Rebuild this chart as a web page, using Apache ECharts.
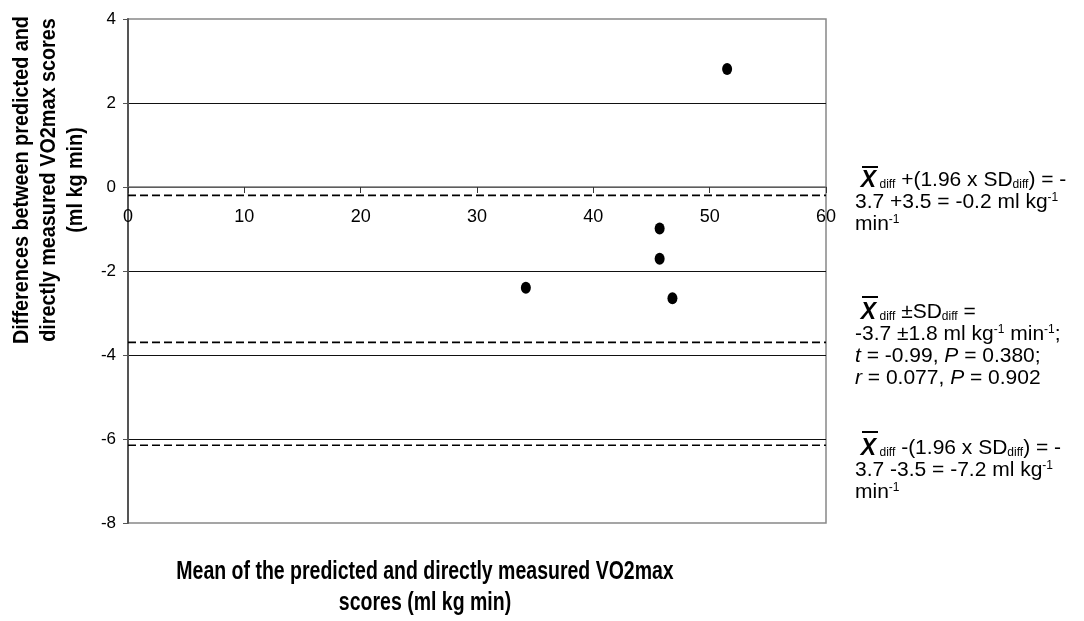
<!DOCTYPE html>
<html>
<head>
<meta charset="utf-8">
<script src="https://cdn.jsdelivr.net/npm/echarts@6/dist/echarts.min.js"></script>
<style>
html,body{margin:0;padding:0;background:#fff;}
#chart{width:1084px;height:621px;}
</style>
</head>
<body>
<div id="chart"></div>
<script>
// ---- data ----
const meanScores = [51.5, 45.7, 45.7, 34.2, 46.8];
const diffScores = [2.81, -0.99, -1.71, -2.40, -2.65];
const limitValues = [-0.2, -3.7, -6.15];
const xRange = [0, 60];
const yRange = [-8, 4];
const xTitle = 'Mean of the predicted and directly measured VO2max\nscores (ml kg min)';
const yTitle = 'Differences between predicted and\ndirectly measured VO2max scores\n(ml kg min)';
const note1 = ' {x|X}{s| diff} +(1.96 x SD{s|diff}) = -\n3.7 +3.5 = -0.2 ml kg{p|-1}\nmin{p|-1}';
const note2 = ' {x|X}{s| diff} ±SD{s|diff} =\n-3.7 ±1.8 ml kg{p|-1} min{p|-1};\n{i|t} = -0.99, {i|P} = 0.380;\n{i|r} = 0.077, {i|P} = 0.902';
const note3 = ' {x|X}{s| diff} -(1.96 x SD{s|diff}) = -\n3.7 -3.5 = -7.2 ml kg{p|-1}\nmin{p|-1}';

const SANS = "'Liberation Sans', Arial, sans-serif";

const GRID = {left: 128, right: 258, top: 19, bottom: 98};
const gridH = 621 - GRID.top - GRID.bottom;
// place the x axis at y = 0
const xAxisOffset = -gridH * (0 - yRange[0]) / (yRange[1] - yRange[0]);

const chart = echarts.init(document.getElementById('chart'), null, {renderer: 'canvas'});

const LH = 22;
const richStyles = {
  x: {fontFamily: SANS, fontSize: 23, fontWeight: 'bold', fontStyle: 'italic', lineHeight: LH, fill: '#000'},
  s: {fontFamily: SANS, fontSize: 12, lineHeight: LH, verticalAlign: 'bottom', fill: '#000', padding: [0, 0, 1, 0]},
  p: {fontFamily: SANS, fontSize: 12, lineHeight: LH, verticalAlign: 'top', fill: '#000'},
  i: {fontFamily: SANS, fontSize: 21, fontStyle: 'italic', lineHeight: LH, fill: '#000'}
};

function note(text, top) {
  return {
    type: 'text', left: 855, top: top, silent: true,
    style: {text: text, fontFamily: SANS, fontSize: 21, lineHeight: LH, fill: '#000', rich: richStyles}
  };
}
function bar(y) {
  return {type: 'line', silent: true, shape: {x1: 862, y1: y, x2: 878, y2: y}, style: {stroke: '#000', lineWidth: 2}};
}

const series = [{
  type: 'scatter',
  data: meanScores.map((m, i) => [m, diffScores[i]]),
  symbol: 'circle',
  symbolSize: [10, 12],
  itemStyle: {color: '#000', opacity: 1},
  z: 5
}];
limitValues.forEach(v => {
  series.push({
    type: 'line',
    data: [[xRange[0], v], [xRange[1], v]],
    symbol: 'none',
    silent: true,
    lineStyle: {color: '#000', width: 1.6, type: [8, 4]},
    z: 4
  });
});

chart.setOption({
  animation: false,
  backgroundColor: '#fff',
  grid: Object.assign({show: true, borderColor: '#888', borderWidth: 1.5, backgroundColor: 'transparent'}, GRID),
  xAxis: {
    type: 'value', min: xRange[0], max: xRange[1], interval: 10,
    position: 'bottom', offset: xAxisOffset,
    axisLine: {show: true, onZero: false, lineStyle: {color: '#777', width: 1.5}},
    axisTick: {show: true, length: 6, lineStyle: {color: '#333'}},
    axisLabel: {fontFamily: SANS, fontSize: 18, color: '#000', margin: 21},
    splitLine: {show: false}
  },
  yAxis: {
    type: 'value', min: yRange[0], max: yRange[1], interval: 2,
    axisLine: {show: true, onZero: false, lineStyle: {color: '#555', width: 2}},
    axisTick: {show: true, length: 5, lineStyle: {color: '#555'}},
    axisLabel: {fontFamily: SANS, fontSize: 17, color: '#000', margin: 12},
    splitLine: {show: true, showMinLine: false, showMaxLine: false, lineStyle: {color: '#111', width: 1}}
  },
  series: series,
  graphic: [
    {
      type: 'text', x: 49, y: 180, rotation: Math.PI / 2, scaleX: 0.9, silent: true,
      style: {text: yTitle, fontFamily: SANS, fontSize: 22, fontWeight: 'bold', lineHeight: 27, fill: '#000', align: 'center', verticalAlign: 'middle'}
    },
    {
      type: 'text', x: 425, y: 588, scaleX: 0.78, silent: true,
      style: {text: xTitle, fontFamily: SANS, fontSize: 25, fontWeight: 'bold', lineHeight: 31, fill: '#000', align: 'center', verticalAlign: 'middle'}
    },
    note(note1, 169), bar(167),
    note(note2, 301), bar(297),
    note(note3, 437), bar(432)
  ]
});
</script>
</body>
</html>
